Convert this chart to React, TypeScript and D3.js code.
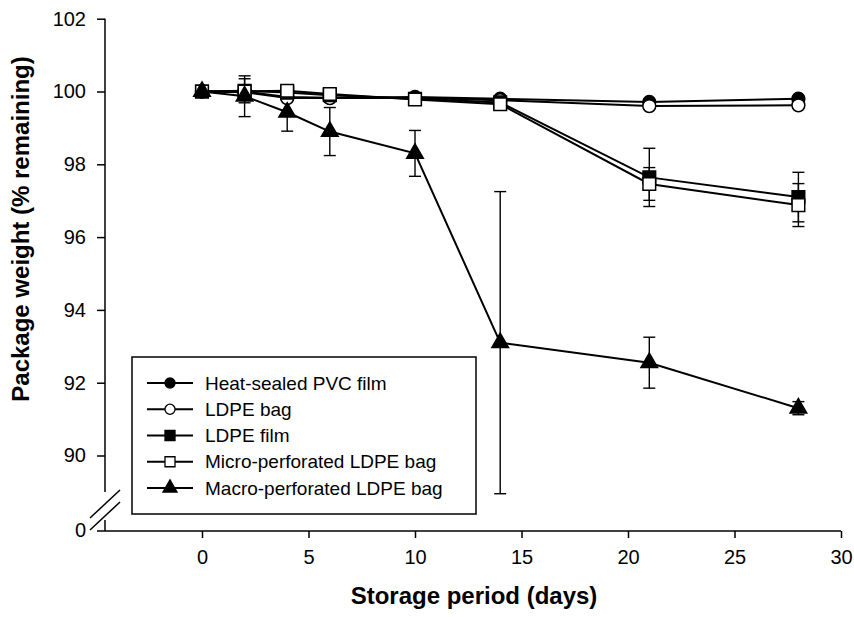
import { useEffect, useRef } from "react";
import * as d3 from "d3";

// storage days and mean package weight (% remaining) per packaging
const days = [0, 2, 4, 6, 10, 14, 21, 28];
const pvcFilm = [100, 100, 99.85, 99.83, 99.85, 99.8, 99.71, 99.8];
const ldpeBag = [100, 99.98, 99.82, 99.82, 99.82, 99.76, 99.6, 99.62];
const ldpeFilm = [100, 100.02, 99.97, 99.9, 99.8, 99.7, 97.64, 97.1];
const microBag = [100, 100, 100.02, 99.93, 99.78, 99.65, 97.46, 96.88];
const macroBag = [100, 99.87, 99.43, 98.9, 98.3, 93.1, 92.55, 91.3];

// error bar half-lengths (0 = not visible)
const pvcFilmErr = [0, 0, 0, 0, 0, 0, 0, 0];
const ldpeBagErr = [0, 0, 0, 0, 0, 0, 0, 0];
const ldpeFilmErr = [0, 0.33, 0, 0, 0, 0, 0.8, 0.68];
const microBagErr = [0, 0, 0, 0, 0, 0, 0.45, 0.59];
const macroBagErr = [0, 0.56, 0.52, 0.66, 0.63, 4.15, 0.7, 0.18];

const seriesNames = [
  "Heat-sealed PVC film",
  "LDPE bag",
  "LDPE film",
  "Micro-perforated LDPE bag",
  "Macro-perforated LDPE bag",
];

const xTicks = [0, 5, 10, 15, 20, 25, 30];
const yTicks = [90, 92, 94, 96, 98, 100, 102];

const FONT = "'Liberation Sans', Arial, Helvetica, sans-serif";

export default function App() {
  const ref = useRef<SVGSVGElement>(null);

  useEffect(() => {
    const svg = d3.select(ref.current);
    svg.selectAll("*").remove();

    const x = d3.scaleLinear().domain([0, 30]).range([202, 841]);
    const y = d3.scaleLinear().domain([90, 102]).range([455.5, 18.7]);
    const axisX = 105;
    const axisY = 531;

    const series = [
      { name: seriesNames[0], values: pvcFilm, err: pvcFilmErr, type: d3.symbolCircle, fill: "#000", size: 130, lsize: 80 },
      { name: seriesNames[1], values: ldpeBag, err: ldpeBagErr, type: d3.symbolCircle, fill: "#fff", size: 130, lsize: 80 },
      { name: seriesNames[2], values: ldpeFilm, err: ldpeFilmErr, type: d3.symbolSquare, fill: "#000", size: 160, lsize: 100 },
      { name: seriesNames[3], values: microBag, err: microBagErr, type: d3.symbolSquare, fill: "#fff", size: 160, lsize: 100 },
      { name: seriesNames[4], values: macroBag, err: macroBagErr, type: d3.symbolTriangle, fill: "#000", size: 120, lsize: 85 },
    ];

    // x axis
    const gx = svg
      .append("g")
      .attr("transform", `translate(0,${axisY})`)
      .call(d3.axisBottom(x).tickValues(xTicks).tickSize(7).tickSizeOuter(0).tickPadding(12));
    gx.select(".domain").remove();
    gx.selectAll("line").attr("stroke", "#000").attr("stroke-width", 1.5);
    gx.selectAll("text").attr("font-family", FONT).attr("font-size", 20).attr("fill", "#000");
    svg
      .append("line")
      .attr("x1", axisX - 8)
      .attr("x2", x(30))
      .attr("y1", axisY)
      .attr("y2", axisY)
      .attr("stroke", "#000")
      .attr("stroke-width", 1.5);

    // y axis (broken)
    const gy = svg
      .append("g")
      .attr("transform", `translate(${axisX},0)`)
      .call(d3.axisLeft(y).tickValues(yTicks).tickSize(8).tickSizeOuter(0).tickPadding(11));
    gy.select(".domain").remove();
    gy.selectAll("line").attr("stroke", "#000").attr("stroke-width", 1.5);
    gy.selectAll("text").attr("font-family", FONT).attr("font-size", 20).attr("fill", "#000");
    svg
      .append("text")
      .attr("x", axisX - 19)
      .attr("y", axisY)
      .attr("dy", "0.32em")
      .attr("text-anchor", "end")
      .attr("font-family", FONT)
      .attr("font-size", 20)
      .text("0");

    const axisLine = svg.append("g").attr("stroke", "#000").attr("stroke-width", 1.5);
    axisLine.append("line").attr("x1", axisX).attr("x2", axisX).attr("y1", y(102)).attr("y2", 492);
    axisLine.append("line").attr("x1", axisX).attr("x2", axisX).attr("y1", 520).attr("y2", axisY);
    [504, 516].forEach((cy) => {
      axisLine
        .append("line")
        .attr("x1", axisX - 15)
        .attr("y1", cy + 14)
        .attr("x2", axisX + 15)
        .attr("y2", cy - 14);
    });

    // lines
    const line = d3
      .line<number>()
      .x((_, i) => x(days[i]))
      .y((d) => y(d));
    series.forEach((s) => {
      svg
        .append("path")
        .attr("d", line(s.values))
        .attr("fill", "none")
        .attr("stroke", "#000")
        .attr("stroke-width", 2);
    });

    // error bars
    series.forEach((s) => {
      const g = svg.append("g").attr("stroke", "#000").attr("stroke-width", 1.4);
      s.values.forEach((v, i) => {
        const e = s.err[i];
        if (!e) return;
        const cx = x(days[i]);
        g.append("line").attr("x1", cx).attr("x2", cx).attr("y1", y(v - e)).attr("y2", y(v + e));
        [v - e, v + e].forEach((w) => {
          g.append("line").attr("x1", cx - 6).attr("x2", cx + 6).attr("y1", y(w)).attr("y2", y(w));
        });
      });
    });

    // markers
    series.forEach((s) => {
      const sym = d3.symbol().type(s.type).size(s.size);
      svg
        .append("g")
        .selectAll("path")
        .data(s.values)
        .enter()
        .append("path")
        .attr("d", sym()!)
        .attr("transform", (d, i) => `translate(${x(days[i])},${y(d)})`)
        .attr("fill", s.fill)
        .attr("stroke", "#000")
        .attr("stroke-width", 1.5);
    });

    // legend
    const lg = svg.append("g");
    lg.append("rect")
      .attr("x", 132)
      .attr("y", 357)
      .attr("width", 344)
      .attr("height", 157)
      .attr("fill", "#fff")
      .attr("stroke", "#000")
      .attr("stroke-width", 1.5);
    series.forEach((s, i) => {
      const ry = 383 + i * 26.25;
      lg.append("line")
        .attr("x1", 147)
        .attr("x2", 193)
        .attr("y1", ry)
        .attr("y2", ry)
        .attr("stroke", "#000")
        .attr("stroke-width", 2);
      lg.append("path")
        .attr("d", d3.symbol().type(s.type).size(s.lsize)()!)
        .attr("transform", `translate(170,${ry})`)
        .attr("fill", s.fill)
        .attr("stroke", "#000")
        .attr("stroke-width", 1.3);
      lg.append("text")
        .attr("x", 205)
        .attr("y", ry)
        .attr("dy", "0.35em")
        .attr("font-family", FONT)
        .attr("font-size", 19)
        .text(s.name);
    });

    // axis titles
    svg
      .append("text")
      .attr("x", 474)
      .attr("y", 604)
      .attr("text-anchor", "middle")
      .attr("font-family", FONT)
      .attr("font-size", 24)
      .attr("font-weight", "bold")
      .text("Storage period (days)");
    svg
      .append("text")
      .attr("transform", "translate(29,229) rotate(-90)")
      .attr("text-anchor", "middle")
      .attr("font-family", FONT)
      .attr("font-size", 24)
      .attr("font-weight", "bold")
      .text("Package weight (% remaining)");
  }, []);

  return (
    <svg
      ref={ref}
      width={854}
      height={617}
      style={{ position: "absolute", left: 0, top: 0, background: "#fff" }}
    />
  );
}
